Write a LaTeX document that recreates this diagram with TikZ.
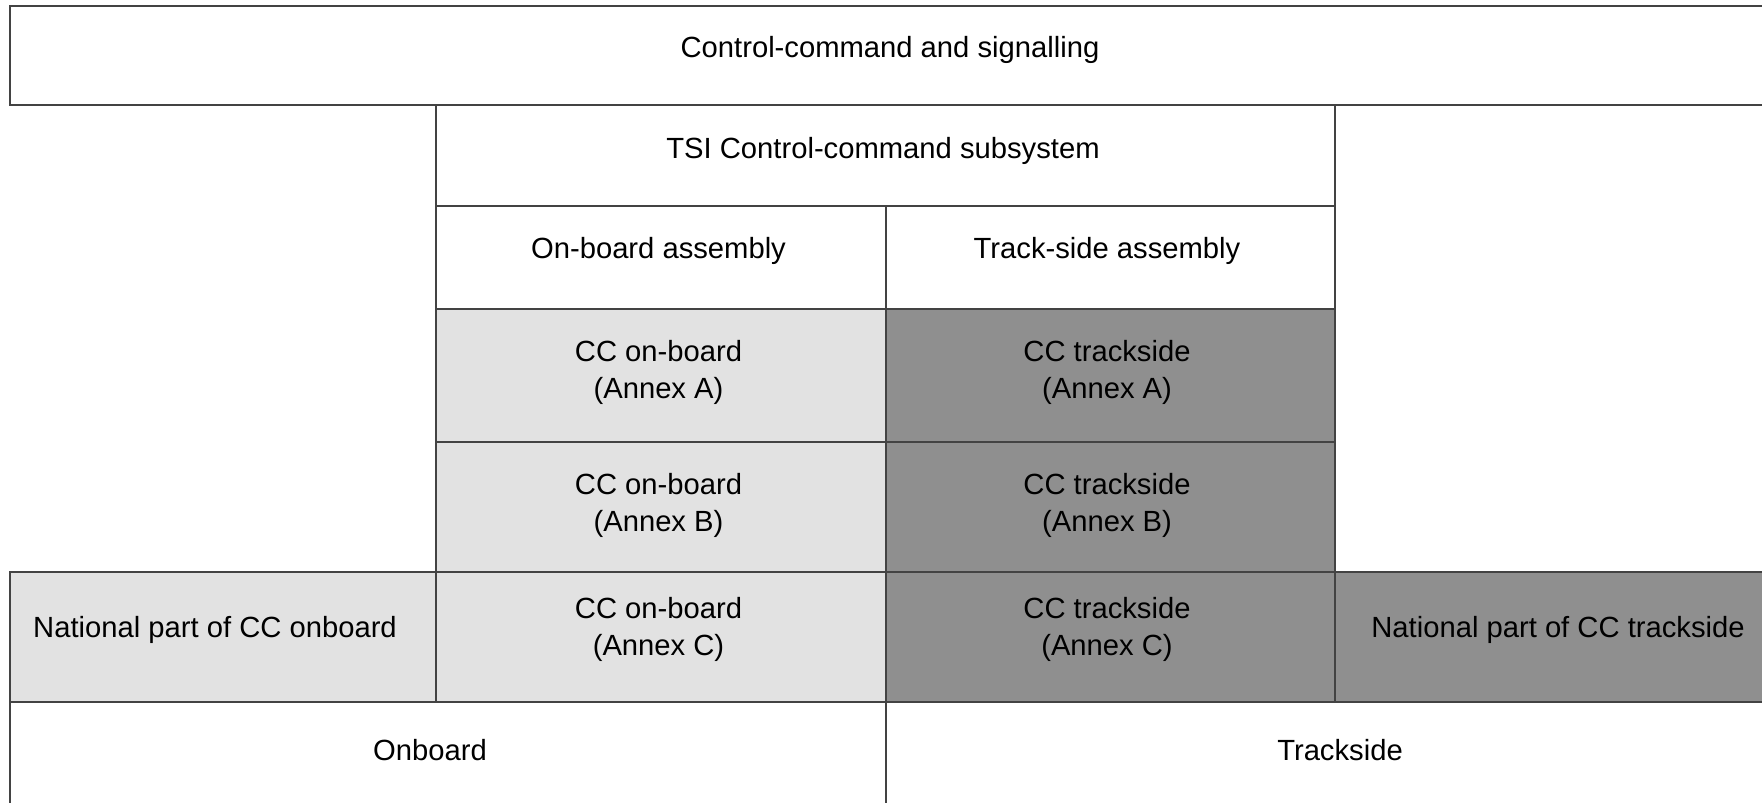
\documentclass[tikz,border=0pt]{standalone}
\usepackage{fontspec}
\setmainfont{Liberation Sans}
\definecolor{cellline}{HTML}{434343}
\definecolor{onboardgray}{HTML}{E2E2E2}
\definecolor{tracksidegray}{HTML}{8F8F8F}
\tikzset{
  cctable/.style={
    x=0.5pt, y=-0.5pt,
    cell/.style={draw=cellline, line width=1pt, fill=white},
    onboard/.style={cell, fill=onboardgray},
    trackside/.style={cell, fill=tracksidegray},
    every node/.style={font=\fontsize{14.6pt}{18.3pt}\selectfont, align=center, inner sep=0pt, anchor=base}
  }
}
\begin{document}
\begin{tikzpicture}[cctable]
    \useasboundingbox (0,0) rectangle (1762,803);
    \clip (0,0) rectangle (1762,803);
    % head rows
    \path[cell] (9.5,5.5) rectangle (1790,105);
    \path[cell] (436,105) rectangle (1335,206);
    \path[cell] (436,206) rectangle (886,309);
    \path[cell] (886,206) rectangle (1335,309);
    % annex rows
    \foreach \top/\bot in {309/441.5, 441.5/571.7, 571.7/701.8}{
        \path[onboard] (436,\top) rectangle (886,\bot);
        \path[trackside] (886,\top) rectangle (1335,\bot);
    }
    \path[onboard] (9.5,571.7) rectangle (436,701.8);
    \path[trackside] (1335,571.7) rectangle (1790,701.8);
    % foot row
    \path[cell] (9.5,701.8) rectangle (886,830);
    \path[cell] (886,701.8) rectangle (1790,830);

    % base of a two-line label is its last line
    \node (ccs) at (890,57.5) {Control-command and signalling};
    \node (tsi) at (883,158) {TSI Control-command subsystem};
    \node (obasm) at (658.5,258.3) {On-board assembly};
    \node (tsasm) at (1107,258.3) {Track-side assembly};
    \node (obA) at (658.5,398) {CC on-board\\(Annex A)};
    \node (tsA) at (1107,398) {CC trackside\\(Annex A)};
    \node (obB) at (658.5,531) {CC on-board\\(Annex B)};
    \node (tsB) at (1107,531) {CC trackside\\(Annex B)};
    \node (obC) at (658.5,655) {CC on-board\\(Annex C)};
    \node (tsC) at (1107,655) {CC trackside\\(Annex C)};
    \node (natob) at (215,637) {National part of CC onboard};
    \node (natts) at (1558,637) {National part of CC trackside};
    \node (onboard) at (430,760) {Onboard};
    \node (trackside) at (1340,760) {Trackside};
\end{tikzpicture}
\end{document}
